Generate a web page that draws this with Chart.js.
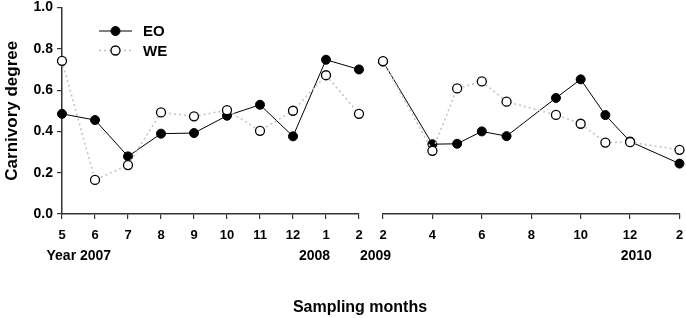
<!DOCTYPE html>
<html>
<head>
<meta charset="utf-8">
<script src="https://cdn.jsdelivr.net/npm/chart.js@4"></script>
<style>
html, body { margin: 0; padding: 0; background: #fff; }
#wrap { position: relative; width: 686px; height: 318px; overflow: hidden; }
#left { position: absolute; left: 0; top: 0; }
#right { position: absolute; left: 352px; top: 0; }
#xtitle { position: absolute; left: 0; width: 720px; top: 298px; line-height: 18px; text-align: center;
  font: bold 16px Arial, "Liberation Sans", sans-serif; color: #000; }
</style>
</head>
<body>
<div id="wrap">
  <canvas id="left" width="370" height="318"></canvas>
  <canvas id="right" width="334" height="318"></canvas>
  <div id="xtitle">Sampling months</div>
</div>
<script>
// 2007-2008: month number, 13 = Jan 2008, 14 = Feb 2008
var monthsA = [5, 6, 7, 8, 9, 10, 11, 12, 13, 14];
var eoA = [0.485, 0.455, 0.279, 0.389, 0.392, 0.476, 0.529, 0.376, 0.747, 0.700];
var weA = [0.742, 0.165, 0.237, 0.492, 0.473, 0.503, 0.403, 0.500, 0.672, 0.485];

// 2009-2010: months after Feb 2009 (0 = Feb 2009, 12 = Feb 2010)
var monthsB = [0, 2, 3, 4, 5, 7, 8, 9, 10, 12];
var eoB = [0.738, 0.338, 0.340, 0.400, 0.377, 0.562, 0.652, 0.479, 0.351, 0.244];
var weB = [0.740, 0.306, 0.608, 0.642, 0.544, 0.480, 0.437, 0.346, 0.348, 0.311];

var seriesNames = ['EO', 'WE'];
var yearsA = [{ text: 'Year 2007', at: 5.51 }, { text: '2008', at: 12.65 }];
var yearsB = [{ text: '2009', at: -0.3 }, { text: '2010', at: 10.25 }];

var FONT = 'Arial, "Liberation Sans", sans-serif';

function pts(xs, ys) {
  return xs.map(function (x, i) { return { x: x, y: ys[i] }; });
}

function makeDatasets(xs, eo, we) {
  return [
    {
      label: seriesNames[0], data: pts(xs, eo), order: 1,
      borderColor: '#000', borderWidth: 1, backgroundColor: '#000',
      pointRadius: 4.5, pointBackgroundColor: '#000', pointBorderColor: '#000', pointBorderWidth: 1,
      tension: 0, clip: false
    },
    {
      label: seriesNames[1], data: pts(xs, we), order: 0,
      borderColor: '#c4c4c4', borderWidth: 1.6, borderDash: [2, 3], backgroundColor: '#fff',
      pointRadius: 4.5, pointBackgroundColor: '#fff', pointBorderColor: '#000', pointBorderWidth: 1.3,
      tension: 0, clip: false
    }
  ];
}

var yearPlugin = {
  id: 'yearLabels',
  afterDraw: function (chart, args, opts) {
    var ctx = chart.ctx, xs = chart.scales.x;
    ctx.save();
    ctx.font = 'bold 14px ' + FONT;
    ctx.fillStyle = '#000';
    ctx.textAlign = 'center';
    ctx.textBaseline = 'middle';
    opts.items.forEach(function (it) {
      ctx.fillText(it.text, xs.getPixelForValue(it.at), 256);
    });
    ctx.restore();
  }
};

var legendPlugin = {
  id: 'insideLegend',
  afterDraw: function (chart, args, opts) {
    if (!opts.show) return;
    var ctx = chart.ctx;
    ctx.save();
    chart.data.datasets.forEach(function (ds, i) {
      var y = 31 + i * 19.5;
      ctx.beginPath();
      ctx.setLineDash(ds.borderDash || []);
      ctx.strokeStyle = ds.borderColor;
      ctx.lineWidth = ds.borderWidth;
      ctx.moveTo(99, y);
      ctx.lineTo(132, y);
      ctx.stroke();
      ctx.setLineDash([]);
      ctx.beginPath();
      ctx.arc(115.5, y, ds.pointRadius, 0, Math.PI * 2);
      ctx.fillStyle = ds.pointBackgroundColor;
      ctx.fill();
      ctx.lineWidth = ds.pointBorderWidth;
      ctx.strokeStyle = ds.pointBorderColor;
      ctx.stroke();
      ctx.fillStyle = '#000';
      ctx.font = 'bold 15px ' + FONT;
      ctx.textBaseline = 'middle';
      ctx.textAlign = 'left';
      ctx.fillText(ds.label, 143, y + 1);
    });
    ctx.restore();
  }
};

function xScale(min, max, step, labelFn) {
  return {
    type: 'linear', min: min, max: max,
    afterFit: function (s) { s.height = 104; s.paddingLeft = 0; s.paddingRight = 0; },
    border: { display: true, color: '#333', width: 1.5 },
    grid: { display: true, drawOnChartArea: false, drawTicks: true, tickLength: 5, color: '#333', lineWidth: 1.2 },
    ticks: {
      stepSize: step, autoSkip: false, maxRotation: 0, padding: 9, color: '#000',
      font: { family: FONT, size: 13, weight: 'bold' },
      callback: labelFn
    }
  };
}

var common = {
  responsive: false, animation: false,
  plugins: { legend: { display: false }, tooltip: { enabled: false } }
};

new Chart(document.getElementById('left'), {
  type: 'line',
  data: { datasets: makeDatasets(monthsA, eoA, weA) },
  options: Object.assign({}, common, {
    layout: { padding: { top: 7.5, right: 11, left: 0, bottom: 0 } },
    plugins: {
      legend: { display: false }, tooltip: { enabled: false },
      yearLabels: { items: yearsA },
      insideLegend: { show: true }
    },
    scales: {
      x: xScale(5, 14, 1, function (v) { return ((v - 1) % 12) + 1; }),
      y: {
        min: 0, max: 1,
        afterFit: function (s) { s.width = 62; s.paddingTop = 0; s.paddingBottom = 0; },
        border: { display: true, color: '#333', width: 1.5 },
        grid: { display: true, drawOnChartArea: false, tickLength: 5, color: '#333', lineWidth: 1.2 },
        title: { display: true, text: 'Carnivory degree', color: '#000', padding: { top: 2, bottom: 0 },
          font: { family: FONT, size: 17, weight: 'bold' } },
        ticks: {
          stepSize: 0.2, padding: 4, color: '#000',
          font: { family: FONT, size: 14, weight: 'bold' },
          callback: function (v) { return v.toFixed(1); }
        }
      }
    }
  }),
  plugins: [yearPlugin, legendPlugin]
});

new Chart(document.getElementById('right'), {
  type: 'line',
  data: { datasets: makeDatasets(monthsB, eoB, weB) },
  options: Object.assign({}, common, {
    layout: { padding: { top: 7.5, right: 6.5, left: 31, bottom: 0 } },
    plugins: {
      legend: { display: false }, tooltip: { enabled: false },
      yearLabels: { items: yearsB },
      insideLegend: { show: false }
    },
    scales: {
      x: xScale(0, 12, 2, function (v) { return ((v + 1) % 12) + 1; }),
      y: { min: 0, max: 1, display: false }
    }
  }),
  plugins: [yearPlugin, legendPlugin]
});
</script>
</body>
</html>
